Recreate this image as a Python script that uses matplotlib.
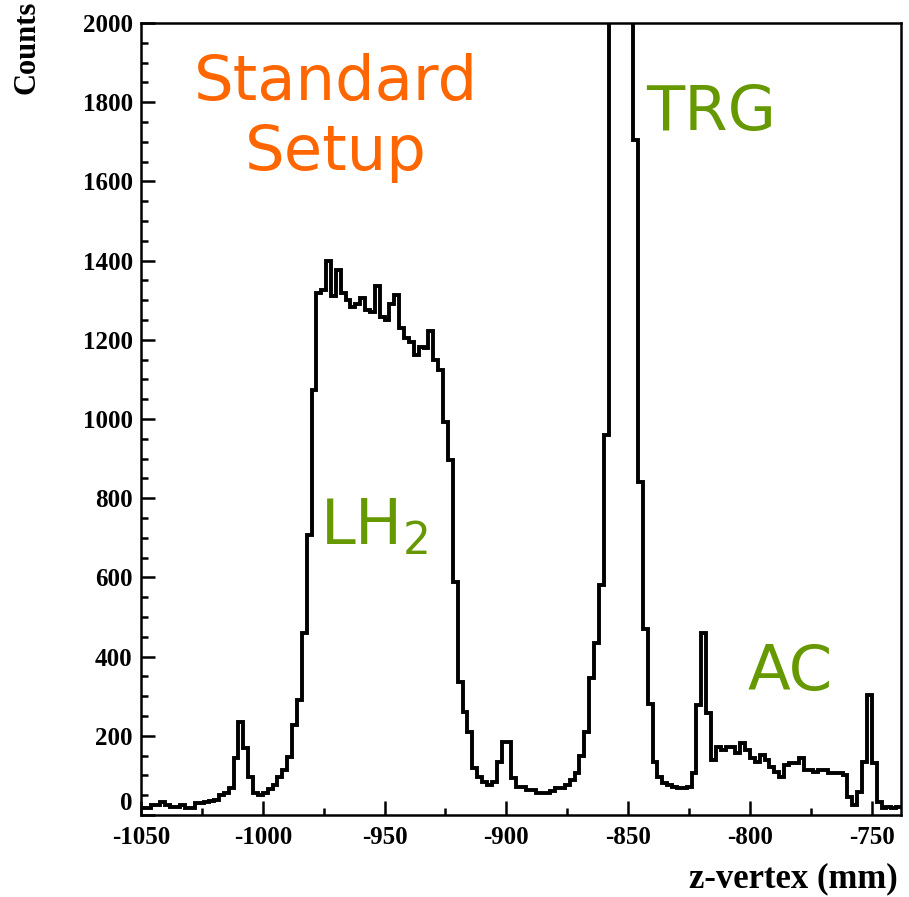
import numpy as np
import matplotlib
matplotlib.use('Agg')
import matplotlib.pyplot as plt
from matplotlib.ticker import MultipleLocator

plt.rcParams['axes.unicode_minus'] = False
plt.rcParams['mathtext.fontset'] = 'dejavusans'

# z-vertex histogram, 2 mm bins starting at -1050 mm
bin_start = -1050
bin_width = 2
counts = [
    18, 18, 25, 25, 33, 25, 20, 20, 25, 18,
    18, 30, 30, 32, 35, 38, 50, 55, 68, 145,
    235, 170, 95, 55, 50, 55, 65, 75, 96, 113,
    147, 227, 290, 460, 707, 1073, 1318, 1326, 1400, 1310,
    1376, 1318, 1300, 1283, 1290, 1305, 1275, 1270, 1335, 1258,
    1250, 1290, 1313, 1230, 1205, 1195, 1162, 1182, 1180, 1222,
    1150, 1124, 992, 896, 588, 336, 260, 210, 119, 96,
    83, 76, 83, 134, 184, 184, 93, 71, 71, 63,
    63, 56, 56, 56, 60, 68, 68, 75, 88, 106,
    150, 210, 345, 434, 580, 960, 2600, 3500, 3600, 3000,
    2400, 1705, 840, 470, 280, 135, 95, 82, 75, 70,
    68, 68, 70, 106, 278, 459, 257, 139, 172, 164,
    172, 172, 156, 182, 165, 144, 135, 152, 140, 122,
    109, 96, 126, 131, 131, 144, 114, 114, 109, 114,
    114, 106, 106, 106, 101, 46, 25, 58, 134, 303,
    131, 33, 18, 20, 18, 20,
]
x_ticks = [-1050, -1000, -950, -900, -850, -800, -750]
y_ticks = [0, 200, 400, 600, 800, 1000, 1200, 1400, 1600, 1800, 2000]

edges = bin_start + bin_width * np.arange(len(counts) + 1)

orange = '#FF6600'
green = '#669900'

fig = plt.figure(figsize=(9.09, 8.97), dpi=100)
ax = fig.add_axes([141 / 909, 82 / 897, 760 / 909, 792 / 897])

ax.stairs(counts, edges, baseline=None, color='black', lw=2.8)

ax.set_xlim(-1050, -738)
ax.set_ylim(0, 2000)

ax.set_xticks(x_ticks)
ax.set_yticks(y_ticks)
ax.xaxis.set_minor_locator(MultipleLocator(25))
ax.yaxis.set_minor_locator(MultipleLocator(50))
ax.tick_params(which='both', direction='in', top=False, right=False, width=1.8)
ax.tick_params(which='major', length=10)
ax.tick_params(which='minor', length=5)
ax.tick_params(axis='y', pad=6)
ax.tick_params(axis='x', pad=8)
for lab in ax.get_xticklabels() + ax.get_yticklabels():
    lab.set_family('Liberation Serif')
    lab.set_fontweight('bold')
    lab.set_fontsize(18)
# lift the "0" a little so it clears "-1050"
ax.yaxis.get_major_ticks()[0].label1.set_verticalalignment('bottom')
for s in ax.spines.values():
    s.set_linewidth(1.8)

fig.text(27 / 909, 1 - 1 / 897, 'Counts', rotation=90, ha='center', va='top',
         family='Liberation Serif', fontweight='bold', fontsize=22)
fig.text(898 / 909, 2 / 897, 'z-vertex (mm)', ha='right', va='bottom',
         family='Liberation Serif', fontweight='bold', fontsize=25)

# annotations
ax.text(-970.0, 1805, 'Standard', color=orange, fontsize=45, ha='center', va='baseline')
ax.text(-970.0, 1629, 'Setup', color=orange, fontsize=45, ha='center', va='baseline')
ax.text(-842.5, 1730, 'TRG', color=green, fontsize=45, ha='left', va='baseline')
ax.text(-976.5, 682, r'LH$_2$', color=green, fontsize=45, ha='left', va='baseline')
ax.text(-801.0, 316, 'AC', color=green, fontsize=45, ha='left', va='baseline')

fig.savefig('out.png', dpi=100)
